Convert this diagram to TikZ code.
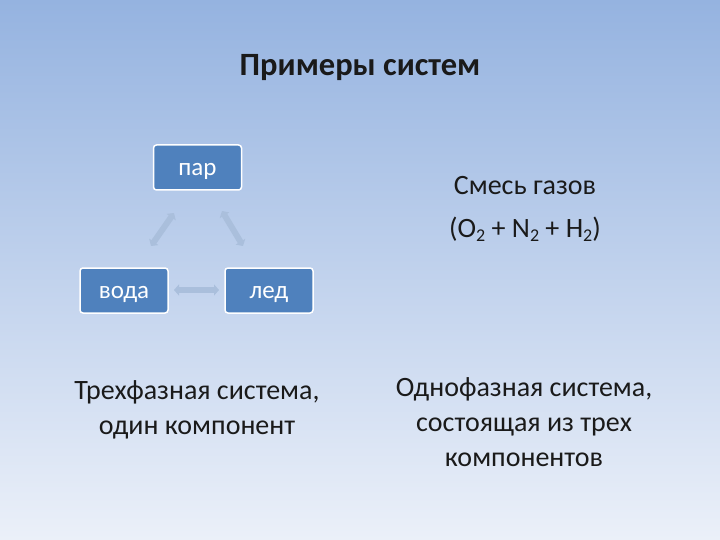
\documentclass[tikz,border=0pt]{standalone}
\usepackage{fontspec}
\setmainfont{Carlito}
\usetikzlibrary{arrows.meta}
\definecolor{bgtop}{HTML}{95B3E0}
\definecolor{bgbot}{HTML}{EBF0F9}
\definecolor{boxfill}{HTML}{4F81BD}
\definecolor{arrowc}{HTML}{AABFDC}
\definecolor{txt}{HTML}{1A1A1A}
\newcommand{\subtwo}{\raisebox{-0.3ex}{\fontsize{18}{20}\selectfont 2}}
\tikzset{
  phasebox/.style={draw=white, line width=1.5pt, fill=boxfill, rounded corners=3pt,
    minimum width=88pt, minimum height=45pt, text=white, font=\fontsize{25}{30}\selectfont,
    inner sep=0pt, text height=16pt, text depth=0pt},
  linkarrow/.style={draw=arrowc, line width=6pt, {Triangle[length=5pt,width=11pt]}-{Triangle[length=5pt,width=11pt]}},
  bodytext/.style={text=txt, font=\fontsize{28}{35}\selectfont, align=center}
}
\begin{document}
\begin{tikzpicture}[x=1pt,y=-1pt]
\shade[top color=bgtop, bottom color=bgbot] (0,0) rectangle (720,540);
\useasboundingbox (0,0) rectangle (720,540);
\node[text=txt, font=\fontsize{32.5}{38}\selectfont\bfseries] (title) at (360,68) {Примеры систем};
\node[phasebox] (par) at (197.5,167.5) {пар};
\node[phasebox] (voda) at (124,290.5) {вода};
\node[phasebox] (led) at (269,290.5) {лед};
\coordinate (a1) at (174,213);
\coordinate (a2) at (151,246);
\coordinate (b1) at (222,211);
\coordinate (b2) at (243,246);
\coordinate (c1) at (174,290);
\coordinate (c2) at (219,290);
\draw[linkarrow] (a1) -- (a2);
\draw[linkarrow] (b1) -- (b2);
\draw[linkarrow] (c1) -- (c2);
\node[bodytext, font=\fontsize{28}{43}\selectfont] (mix) at (525,209) {Смесь газов\\(O\subtwo{} + N\subtwo{} + H\subtwo)};
\node[bodytext] (three) at (197,410) {Трехфазная система,\\один компонент};
\node[bodytext] (one) at (524,422) {Однофазная система,\\состоящая из трех\\компонентов};
\end{tikzpicture}
\end{document}
